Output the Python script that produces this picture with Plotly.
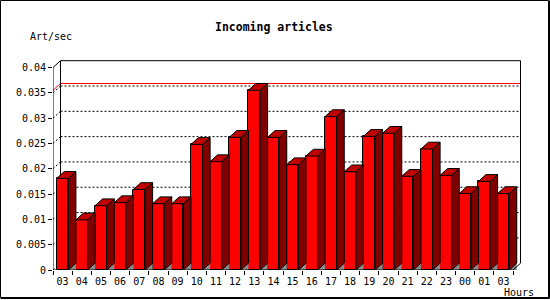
import plotly.graph_objects as go

# ---- data ----
hours = ["03", "04", "05", "06", "07", "08", "09", "10", "11", "12", "13", "14",
         "15", "16", "17", "18", "19", "20", "21", "22", "23", "00", "01", "03"]
art_per_sec = [0.0181, 0.0099, 0.0127, 0.0133, 0.0159, 0.0131, 0.0131, 0.0248,
               0.0214, 0.0262, 0.0355, 0.0262, 0.0208, 0.0225, 0.0303, 0.0194,
               0.0264, 0.0270, 0.0185, 0.0239, 0.0187, 0.0151, 0.0175, 0.0151]
y_tickvals = [0, 0.005, 0.01, 0.015, 0.02, 0.025, 0.03, 0.035, 0.04]
y_ticktext = ["0", "0.005", "0.01", "0.015", "0.02", "0.025", "0.03", "0.035", "0.04"]
title_text = "Incoming articles"
y_title = "Art/sec"
x_title = "Hours"

# ---- geometry (pixels) ----
FIG_W, FIG_H = 550, 300
L, R, T, B = 53, 28, 60, 30
PW, PH = FIG_W - L - R, FIG_H - T - B
n = len(hours)
ppx = 460.0 / n                 # pixels per category
ppy = 202.5 / 0.04              # pixels per value unit
xmax = PW / ppx
ymax = PH / ppy
dx = 7.5 / ppx                  # 3D depth in data units
dy = 6.8 / ppy
bw = 0.61                       # bar width (category units)
ytop = y_tickvals[-1]

def px2paper(px, py):
    return (px - L) / PW, (FIG_H - B - py) / PH

FONT = "DejaVu Sans Mono"
RED, TOP, SIDE, SHADOW = "#FF0000", "#C00000", "#800000", "#8C8C8C"

centers = [i + 0.5 for i in range(n)]

# top / side / shadow polygons derived from the data
top_x, top_y, side_x, side_y, sh_x, sh_y = [], [], [], [], [], []
for c, v in zip(centers, art_per_sec):
    x0, x1 = c - bw / 2, c + bw / 2
    top_x += [x0, x1, x1 + dx, x0 + dx, x0, None]
    top_y += [v, v, v + dy, v + dy, v, None]
    side_x += [x1, x1 + dx, x1 + dx, x1, x1, None]
    side_y += [0, dy, v + dy, v, 0, None]
    sh_x += [x1, x1 + dx, x1 + dx, x1, None]
    sh_y += [0, dy, 0, 0, None]

fig = go.Figure()
fig.add_trace(go.Scatter(x=sh_x, y=sh_y, fill="toself", fillcolor=SHADOW,
                         mode="lines", line=dict(width=0), hoverinfo="skip",
                         showlegend=False))
fig.add_trace(go.Bar(x=centers, y=art_per_sec, width=bw,
                     marker=dict(color=RED, line=dict(color="black", width=1)),
                     showlegend=False))
fig.add_trace(go.Scatter(x=side_x, y=side_y, fill="toself", fillcolor=SIDE,
                         mode="lines", line=dict(color="black", width=1),
                         hoverinfo="skip", showlegend=False))
fig.add_trace(go.Scatter(x=top_x, y=top_y, fill="toself", fillcolor=TOP,
                         mode="lines", line=dict(color="black", width=1),
                         hoverinfo="skip", showlegend=False))

shapes = []
def seg(x0, y0, x1, y1, color="black", dash="solid", layer="below", width=1):
    shapes.append(dict(type="line", xref="x", yref="y", x0=x0, y0=y0, x1=x1, y1=y1,
                       line=dict(color=color, width=width, dash=dash), layer=layer))

# dotted grid on the back wall + dotted connectors
for v in y_tickvals[:-1]:
    if v > 0:
        seg(dx, v + dy, n + dx, v + dy, dash="2px,2px")
    seg(0, v, dx, v + dy, dash="2px,2px")
# max line in red
m = max(art_per_sec)
seg(dx, m + dy, n + dx, m + dy, color=RED)
seg(0, m, dx, m + dy, color=RED)
# back wall frame
seg(dx, dy, dx, ytop + dy)
seg(dx, ytop + dy, n + dx, ytop + dy)
seg(n + dx, dy, n + dx, ytop + dy)
# front axes
seg(0, 0, 0, ytop, layer="above")
seg(0, ytop, dx, ytop + dy, layer="above")
seg(0, 0, n, 0, layer="above")
seg(n, 0, n + dx, dy, layer="above")

# outer frame
fx0, fy0 = px2paper(0.5, 0.5)
fx1, fy1 = px2paper(548.5, 297.5)
shapes.append(dict(type="rect", xref="paper", yref="paper", x0=fx0, y0=fy1, x1=fx1, y1=fy0,
                   line=dict(color="black", width=1), layer="above"))
rx, _ = px2paper(549.5, 0)
_, by = px2paper(0, 298.5)
shapes.append(dict(type="line", xref="paper", yref="paper", x0=rx, y0=fy0, x1=rx, y1=by,
                   line=dict(color="black", width=1)))
shapes.append(dict(type="line", xref="paper", yref="paper", x0=fx0, y0=by, x1=rx, y1=by,
                   line=dict(color="black", width=1)))

annotations = []
tx, ty = px2paper(274, 26.7)
annotations.append(dict(text="<b>" + title_text + "</b>", x=tx, y=ty, xref="paper", yref="paper",
                        xanchor="center", yanchor="middle", showarrow=False,
                        font=dict(family=FONT, size=11.5, color="black")))
ax_, ay_ = px2paper(28, 36.7)
annotations.append(dict(text=y_title, x=ax_, y=ay_, xref="paper", yref="paper",
                        xanchor="left", yanchor="middle", showarrow=False,
                        font=dict(family=FONT, size=10, color="black")))
hx, hy = px2paper(536, 292.8)
annotations.append(dict(text=x_title, x=hx, y=hy, xref="paper", yref="paper",
                        xanchor="right", yanchor="middle", showarrow=False,
                        font=dict(family=FONT, size=10, color="black")))

fig.update_layout(
    width=FIG_W, height=FIG_H,
    margin=dict(l=L, r=R, t=T, b=B, pad=0),
    paper_bgcolor="white", plot_bgcolor="white",
    shapes=shapes, annotations=annotations,
    bargap=0, showlegend=False,
    xaxis=dict(range=[0, xmax], showgrid=False, zeroline=False, showline=False,
               tickmode="array", tickvals=centers, ticktext=hours,
               ticks="outside", ticklen=2, tickcolor="rgba(0,0,0,0)",
               tickfont=dict(family=FONT, size=10, color="black"),
               minor=dict(tickmode="array", tickvals=list(range(n + 1)), ticks="outside",
                          ticklen=4, tickcolor="black", tickwidth=1, showgrid=False),
               fixedrange=True),
    yaxis=dict(range=[0, ymax], showgrid=False, zeroline=False, showline=False,
               tickmode="array", tickvals=y_tickvals, ticktext=y_ticktext,
               ticks="outside", ticklen=4, tickcolor="black", tickwidth=1,
               tickfont=dict(family=FONT, size=10, color="black"), fixedrange=True),
)

fig.write_html("out.html")
